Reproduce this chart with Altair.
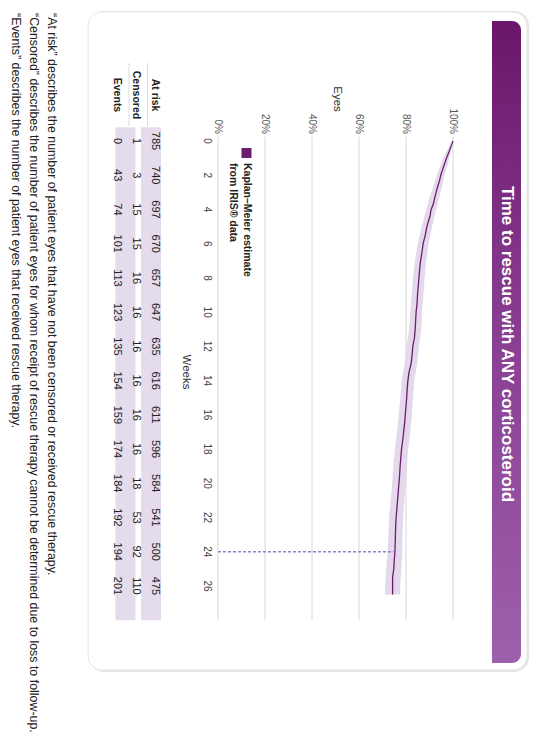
import altair as alt
import pandas as pd

# --- values ------------------------------------------------------------
km_weeks = [0, 0.3, 0.6, 0.9, 1.3, 1.7, 2.0, 2.3, 2.7, 3.0, 3.4, 3.7, 4.0, 4.4, 4.7,
            5.0, 5.5, 6.0, 6.5, 7.0, 7.5, 8.0, 8.5, 9.0, 9.5, 10.0, 10.5, 11.0, 11.5,
            12.0, 12.5, 13.0, 13.5, 14.0, 14.5, 15.0, 15.5, 16.0, 16.5, 17.0, 17.5,
            18.0, 18.5, 19.0, 19.5, 20.0, 20.5, 21.0, 21.5, 22.0, 22.5, 23.0, 23.5,
            24.0, 24.5, 25.0, 25.5, 26.0, 26.5]
km_surv = [1.000, 0.992, 0.984, 0.975, 0.965, 0.955, 0.948, 0.943, 0.934, 0.928, 0.921,
           0.916, 0.907, 0.902, 0.895, 0.889, 0.882, 0.873, 0.868, 0.862, 0.858, 0.855,
           0.852, 0.849, 0.847, 0.843, 0.841, 0.839, 0.836, 0.829, 0.826, 0.822, 0.813,
           0.808, 0.805, 0.803, 0.800, 0.797, 0.794, 0.790, 0.786, 0.781, 0.778, 0.775,
           0.773, 0.770, 0.767, 0.764, 0.761, 0.758, 0.756, 0.755, 0.754, 0.753, 0.750,
           0.748, 0.743, 0.743, 0.743]

ci_weeks = [0, 1, 2, 3, 4, 5, 6, 7, 8, 9, 10, 11, 12, 13, 14, 15, 16, 17, 18, 19, 20,
            21, 22, 23, 24, 25, 26, 26.5]
ci_lower = [0.996, 0.958, 0.931, 0.908, 0.886, 0.867, 0.850, 0.838, 0.830, 0.824, 0.818,
            0.813, 0.803, 0.795, 0.781, 0.776, 0.769, 0.762, 0.753, 0.746, 0.741, 0.735,
            0.728, 0.725, 0.722, 0.716, 0.711, 0.711]
ci_upper = [1.000, 0.985, 0.964, 0.947, 0.928, 0.911, 0.896, 0.886, 0.879, 0.874, 0.868,
            0.865, 0.855, 0.848, 0.835, 0.830, 0.825, 0.818, 0.809, 0.804, 0.799, 0.793,
            0.788, 0.785, 0.784, 0.780, 0.775, 0.775]

table_weeks = [0, 2, 4, 6, 8, 10, 12, 14, 16, 18, 20, 22, 24, 26]
at_risk = [785, 740, 697, 670, 657, 647, 635, 616, 611, 596, 584, 541, 500, 475]
censored = [1, 3, 15, 15, 16, 16, 16, 16, 16, 16, 18, 53, 92, 110]
events = [0, 43, 74, 101, 113, 123, 135, 154, 159, 174, 184, 192, 194, 201]
row_names = ["At risk", "Censored", "Events"]
shaded_rows = ["At risk", "Events"]

pct_ticks = [0, 0.2, 0.4, 0.6, 0.8, 1.0]
pct_labels = ["0%", "20%", "40%", "60%", "80%", "100%"]
week_ticks = [0, 2, 4, 6, 8, 10, 12, 14, 16, 18, 20, 22, 24, 26]

marker_week = [24]
marker_surv = [0.753]

title = "Time to rescue with ANY corticosteroid"
legend_lines = ["Kaplan\u2013Meier estimate", "from IRIS\u00ae data"]
footnotes = [
    "\u201cAt risk\u201d describes the number of patient eyes that have not been censored or received rescue therapy.",
    "\u201cCensored\u201d describes the number of patient eyes for whom receipt of rescue therapy cannot be determined due to loss to follow-up.",
    "\u201cEvents\u201d describes the number of patient eyes that received rescue therapy.",
]

# --- styling --------------------------------------------------------------
FONT = "Liberation Sans, Arial, sans-serif"
PURPLE = "#6b1d6f"
BAND = "#e1d4e9"
SHADE = "#e4dcec"

# whole picture is turned a quarter turn: weeks run down the page, % runs left->right
pct_scale = alt.Scale(domain=[0, 1], range=[210, 445], nice=False, zero=False)
wk_scale = alt.Scale(domain=[0, 28], range=[133, 612.2], nice=False, zero=False)
row_scale = alt.Scale(domain=["Events", "Censored", "At risk"], range=[109, 147], padding=0)
shade_scale = alt.Scale(domain=["Events", "Censored", "At risk"], range=[111, 149.5], padding=0)

one = pd.DataFrame({"k": [0]})

km = pd.DataFrame({"week": km_weeks, "surv": km_surv})
ci = pd.DataFrame({"week": ci_weeks, "lo": ci_lower, "hi": ci_upper})
grid = pd.DataFrame({"pct": pct_ticks, "label": pct_labels, "top": -0.25, "bottom": 28})
wk = pd.DataFrame({"week": week_ticks, "label": [str(w) for w in week_ticks]})
marker = pd.DataFrame({"week": marker_week, "surv": marker_surv, "zero": 0})

tbl = pd.concat([
    pd.DataFrame({"row": name, "week": table_weeks, "n": vals})
    for name, vals in zip(row_names, [at_risk, censored, events])
])
shade = pd.DataFrame({"row": shaded_rows, "top": -0.8, "bottom": 28})

# card + title bar (decoration)
shadow = alt.Chart(one).mark_rect(cornerRadius=15, fill="#cccccc", opacity=0.5).encode(
    x=alt.value(81), x2=alt.value(521), y=alt.value(3), y2=alt.value(664)
)
card = alt.Chart(one).mark_rect(cornerRadius=14, fill="white", stroke="#e6e6e6").encode(
    x=alt.value(80), x2=alt.value(519), y=alt.value(4), y2=alt.value(662)
)
title_bar = alt.Chart(one).mark_rect(
    cornerRadiusTopRight=9, cornerRadiusBottomRight=9,
    fill=alt.Gradient(gradient="linear", x1=0, y1=0, x2=0, y2=1,
                      stops=[alt.GradientStop(color="#6a176b", offset=0),
                             alt.GradientStop(color="#8a3f93", offset=0.5),
                             alt.GradientStop(color="#9d60ab", offset=1)])
).encode(x=alt.value(484), x2=alt.value(513), y=alt.value(13), y2=alt.value(655))
title_text = alt.Chart(one).mark_text(
    angle=90, font=FONT, fontSize=17, fontWeight="bold", color="white"
).encode(x=alt.value(499), y=alt.value(336), text=alt.value(title))

# grid + tick labels
gridlines = alt.Chart(grid).mark_rule(color="#d6d6d6", strokeWidth=1).encode(
    x=alt.X("pct:Q", scale=pct_scale, axis=None),
    y=alt.Y("top:Q", scale=wk_scale, axis=None), y2="bottom:Q"
)
pct_text = alt.Chart(grid).mark_text(
    angle=90, align="right", font=FONT, fontSize=10, color="#555555"
).encode(x=alt.X("pct:Q", scale=pct_scale, axis=None), y=alt.value(126), text="label:N")
wk_text = alt.Chart(wk).mark_text(
    angle=90, font=FONT, fontSize=10, color="#444444"
).encode(x=alt.value(199), y=alt.Y("week:Q", scale=wk_scale, axis=None), text="label:N")
eyes_title = alt.Chart(one).mark_text(angle=90, font=FONT, fontSize=11.5, color="#333333").encode(
    x=alt.value(329), y=alt.value(91), text=alt.value("Eyes"))
weeks_title = alt.Chart(one).mark_text(angle=90, font=FONT, fontSize=11.5, color="#333333").encode(
    x=alt.value(178), y=alt.value(364), text=alt.value("Weeks"))

# KM estimate with confidence band
ci_band = alt.Chart(ci).mark_area(color=BAND, opacity=0.9, orient="horizontal").encode(
    x=alt.X("lo:Q", scale=pct_scale, axis=None), x2="hi:Q",
    y=alt.Y("week:Q", scale=wk_scale, axis=None)
)
km_line = alt.Chart(km).mark_line(color=PURPLE, strokeWidth=1.3).encode(
    x=alt.X("surv:Q", scale=pct_scale, axis=None),
    y=alt.Y("week:Q", scale=wk_scale, axis=None),
    order="week:Q"
)
dash = alt.Chart(marker).mark_rule(color="#8a86c6", strokeWidth=1.5, strokeDash=[3, 2]).encode(
    x=alt.X("zero:Q", scale=pct_scale, axis=None), x2="surv:Q",
    y=alt.Y("week:Q", scale=wk_scale, axis=None)
)

# legend
legend_box = alt.Chart(one).mark_square(size=100, color=PURPLE, opacity=1).encode(
    x=alt.value(238.5), y=alt.value(145))
legend_text = alt.Chart(pd.DataFrame({"line": legend_lines})).mark_text(
    angle=90, align="left", font=FONT, fontSize=10.5, fontWeight="bold", color="#222222"
).encode(
    x=alt.X("line:N", scale=alt.Scale(domain=legend_lines, range=[238.5, 225], padding=0), axis=None),
    y=alt.value(155), text="line:N"
)

# risk table
shade_rules = alt.Chart(shade).mark_rule(color=SHADE, strokeWidth=20).encode(
    x=alt.X("row:N", scale=shade_scale, axis=None),
    y=alt.Y("top:Q", scale=wk_scale, axis=None), y2="bottom:Q"
)
head_lines = alt.Chart(one).mark_rule(color="#dddddd", strokeWidth=1).encode(
    x=alt.value(139.5), y=alt.value(55), y2=alt.value(118))
head_lines2 = alt.Chart(one).mark_rule(color="#dddddd", strokeWidth=1).encode(
    x=alt.value(121), y=alt.value(55), y2=alt.value(118))
row_heads = alt.Chart(pd.DataFrame({"row": row_names})).mark_text(
    angle=90, font=FONT, fontSize=10.5, fontWeight="bold", color="#222222"
).encode(x=alt.X("row:N", scale=row_scale, axis=None), y=alt.value(87), text="row:N")
tbl_text = alt.Chart(tbl).mark_text(
    angle=90, font=FONT, fontSize=11, color="#222222"
).encode(
    x=alt.X("row:N", scale=row_scale, axis=None),
    y=alt.Y("week:Q", scale=wk_scale, axis=None),
    text="n:Q"
)

# footnotes
notes = alt.Chart(pd.DataFrame({"line": footnotes})).mark_text(
    angle=90, align="left", font=FONT, fontSize=12.4, color="#222222"
).encode(
    x=alt.X("line:N", scale=alt.Scale(domain=footnotes, range=[44, 8], padding=0), axis=None),
    y=alt.value(5), text="line:N"
)

chart = alt.layer(
    shadow, card, title_bar, title_text,
    shade_rules, head_lines, head_lines2,
    gridlines, pct_text, wk_text, eyes_title, weeks_title,
    ci_band, km_line, dash,
    legend_box, legend_text,
    row_heads, tbl_text, notes
).resolve_scale(
    x="independent", y="independent"
).properties(
    width=528, height=729, padding=0, autosize=alt.AutoSizeParams(type="none")
).configure_view(stroke=None)

chart.save("out.html", embed_options={"renderer": "svg", "actions": False})
